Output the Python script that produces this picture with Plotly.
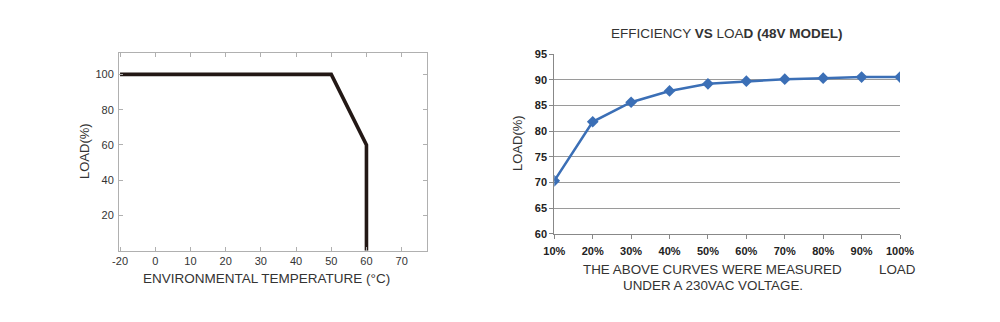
import plotly.graph_objects as go

# ---- Derating curve (left) ----
temp_c = [-20, 50, 60, 60]          # ambient temperature, °C
derate_load = [100, 100, 60, 0]     # allowed load, %
temp_ticks = [-20, 0, 10, 20, 30, 40, 50, 60, 70]
load_ticks = [20, 40, 60, 80, 100]

# ---- Efficiency curve (right) ----
load_pct = [10, 20, 30, 40, 50, 60, 70, 80, 90, 100]
efficiency = [70.3, 81.8, 85.6, 87.8, 89.2, 89.7, 90.1, 90.3, 90.5, 90.5]
eff_ticks = [60, 65, 70, 75, 80, 85, 90, 95]

W, H = 1000, 322


def axis_pos(t):
    # the temperature axis is broken below 0 °C: -20..0 is drawn in half scale
    return t if t >= 0 else t / 2


def px(x):
    return x / W


def py(y):
    return 1 - y / H


NARROW = "Liberation Sans Narrow, Arial Narrow, Liberation Sans, Arial, sans-serif"
SANS = "Liberation Sans, Arial, sans-serif"

fig = go.Figure()

fig.add_trace(go.Scatter(
    x=[axis_pos(t) for t in temp_c], y=derate_load,
    mode="lines", line=dict(color="#231815", width=3.6),
    xaxis="x", yaxis="y", showlegend=False, hoverinfo="skip",
))

fig.add_trace(go.Scatter(
    x=load_pct, y=efficiency,
    mode="lines+markers",
    line=dict(color="#3b6fb6", width=2.5),
    marker=dict(symbol="diamond", size=9, color="#3b6fb6"),
    xaxis="x2", yaxis="y2", showlegend=False,
))

frame = dict(showline=True, linecolor="#b0b0b0", linewidth=1, mirror="ticks",
             ticks="inside", ticklen=4, tickcolor="#b0b0b0", showgrid=False,
             zeroline=False, automargin=False,
             tickfont=dict(family=NARROW, size=11, color="#333"))

fig.update_layout(
    template="none",
    width=W, height=H,
    margin=dict(l=0, r=0, t=0, b=0, autoexpand=False),
    paper_bgcolor="white", plot_bgcolor="white",
    xaxis=dict(domain=[px(119), px(427)], anchor="y",
               range=[-10.3, 77.2],
               tickvals=[axis_pos(t) for t in temp_ticks],
               ticktext=[str(t) for t in temp_ticks],
               **frame),
    yaxis=dict(domain=[py(250.7), py(52.7)], anchor="x",
               range=[0, 112.3], tickvals=load_ticks,
               ticktext=[str(v) for v in load_ticks],
               ticklabelstandoff=2,
               **frame),
    xaxis2=dict(domain=[px(554.3), px(900)], anchor="y2",
                range=[10, 100], tickvals=load_pct,
                ticktext=[f"<b>{v}%</b>" for v in load_pct],
                showline=True, linecolor="#888", linewidth=1,
                ticks="outside", ticklen=4, tickcolor="#888",
                ticklabelstandoff=3,
                showgrid=False, zeroline=False, automargin=False,
                tickfont=dict(family=SANS, size=11, color="#222")),
    yaxis2=dict(domain=[py(233.7), py(54)], anchor="x2",
                range=[60, 95], tickvals=eff_ticks,
                ticktext=[f"<b>{v}</b>" for v in eff_ticks],
                showline=True, linecolor="#888", linewidth=1,
                ticks="outside", ticklen=4, tickcolor="#888",
                showgrid=True, gridcolor="#9a9a9a", gridwidth=1,
                zeroline=False, automargin=False,
                tickfont=dict(family=SANS, size=11, color="#222")),
)

text_color = "#333"
notes = [
    (266, 278, "ENVIRONMENTAL TEMPERATURE (°C)", 13.5, 0),
    (84, 151, "LOAD(%)", 13, -90),
    (727, 34, "EFFICIENCY <b>VS</b> LOA<b>D (48V MODEL)</b>", 13.5, 0),
    (517, 143, "LOAD(%)", 13, -90),
    (712, 269, "THE ABOVE CURVES WERE MEASURED", 13.4, 0),
    (713, 285, "UNDER A 230VAC VOLTAGE.", 13.4, 0),
    (897, 269, "LOAD", 13.4, 0),
]
for x, y, txt, size, ang in notes:
    fig.add_annotation(
        x=px(x), y=py(y), xref="paper", yref="paper",
        text=txt, showarrow=False, textangle=ang,
        xanchor="center", yanchor="middle",
        font=dict(family=SANS, size=size, color=text_color),
    )

fig.write_html("out.html")
